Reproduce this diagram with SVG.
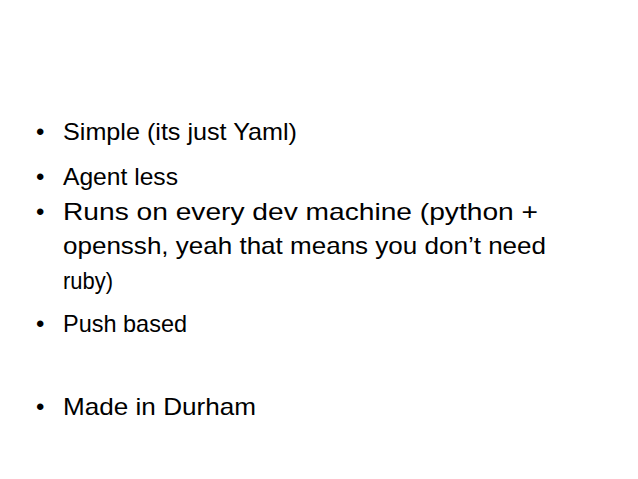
<svg xmlns="http://www.w3.org/2000/svg" width="638" height="479" viewBox="0 0 638 479">
<style>text{font-family:"Liberation Sans",Arial,sans-serif;font-size:24px;fill:#000}</style>
<rect width="638" height="479" fill="#fff"/>
<g id="bullets">
<text x="36" y="140">•</text><text x="63" y="140" textLength="234" lengthAdjust="spacingAndGlyphs">Simple (its just Yaml)</text>
<text x="36" y="185">•</text><text x="63" y="185" textLength="115" lengthAdjust="spacingAndGlyphs">Agent less</text>
<text x="36" y="220">•</text><text x="63" y="220" textLength="475" lengthAdjust="spacingAndGlyphs">Runs on every dev machine (python +</text>
<text x="63" y="254" textLength="483" lengthAdjust="spacingAndGlyphs">openssh, yeah that means you don’t need</text>
<text x="63" y="289" textLength="50" lengthAdjust="spacingAndGlyphs">ruby)</text>
<text x="36" y="332">•</text><text x="63" y="332" textLength="124" lengthAdjust="spacingAndGlyphs">Push based</text>
<text x="36" y="415">•</text><text x="63" y="415" textLength="193" lengthAdjust="spacingAndGlyphs">Made in Durham</text>
</g>
</svg>
